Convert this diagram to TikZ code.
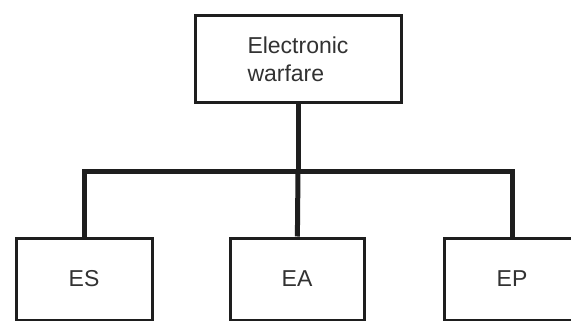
\documentclass[tikz,border=0pt]{standalone}
\usepackage{fontspec}
\setmainfont{Liberation Sans}
\usetikzlibrary{positioning}
\definecolor{LineDark}{RGB}{30,30,30}
\definecolor{TextGray}{RGB}{50,50,50}

\begin{document}
\begin{tikzpicture}[x=1pt,y=-1pt,
        box/.style={rectangle,draw=LineDark,line width=3pt,fill=white,
                    text=TextGray,font=\fontsize{23}{28}\selectfont,
                    inner sep=0pt,minimum height=82pt},
        arr/.style={draw=LineDark,line width=5pt}
      ]
        \clip (0,0) rectangle (571,321);
        \fill[white] (0,0) rectangle (571,321);
        \node[box,minimum width=206pt,minimum height=87pt,align=left] (ew) at (298,59.5) {Electronic\\warfare};
        \node[box,minimum width=136pt] (es) at (84,279) {ES};
        \node[box,minimum width=134pt] (ea) at (297,279) {EA};
        \node[box,minimum width=136pt] (ep) at (512,279) {EP};
        \coordinate (j) at (298,171);
        \draw[arr] (ew) -- (j);
        \draw[arr] (es) |- (j) -| (ep);
        \draw[arr] (j) -- (ea);
      \end{tikzpicture}
\end{document}
